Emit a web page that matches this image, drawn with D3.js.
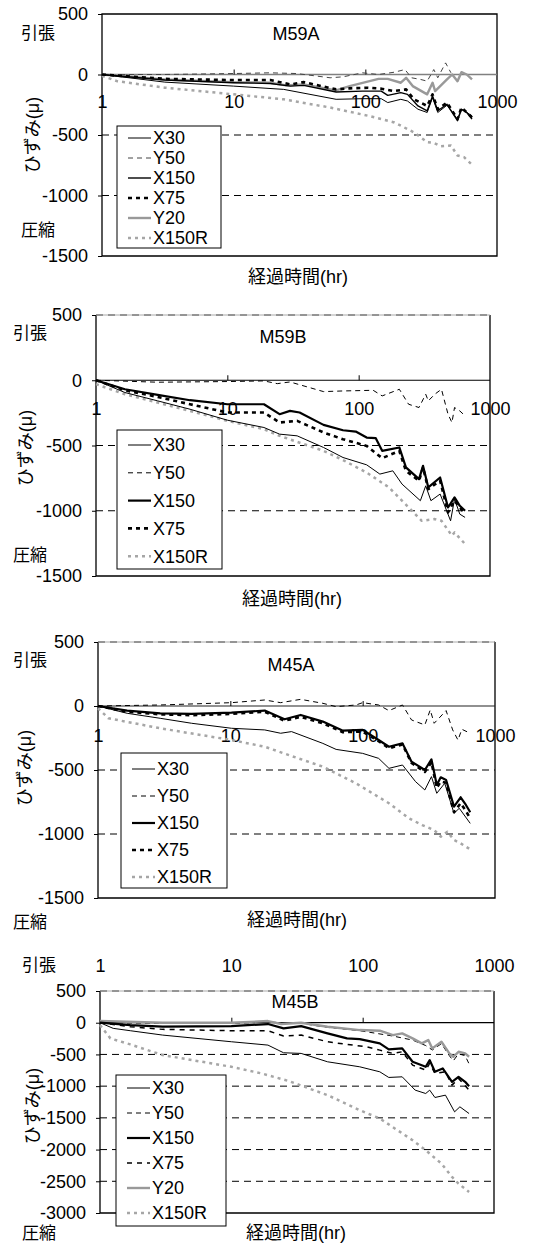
<!DOCTYPE html>
<html>
<head>
<meta charset="utf-8">
<script src="https://cdn.jsdelivr.net/npm/d3@7"></script>
<style>
  body { margin: 0; background: #fff; }
</style>
</head>
<body>
<div id="chart"></div>
<script>
// Tick labels
const xTicks = [1, 10, 100, 1000];
const yTicksA = [500, 0, -500, -1000, -1500];
const yTicksB = [500, 0, -500, -1000, -1500, -2000, -2500, -3000];

// Series names per panel
const namesSix = ["X30", "Y50", "X150", "X75", "Y20", "X150R"];
const namesFive = ["X30", "Y50", "X150", "X75", "X150R"];

// Data: [elapsed hours, strain (μ)]
// M59A
const m59aX30 = [[1,0],[3,-63],[10,-96],[24,-123],[60,-205],[95,-200],[132,-200],[148,-232],[186,-205],[209,-219],[251,-287],[295,-314],[324,-191],[355,-314],[417,-254],[501,-369],[537,-287],[646,-341]];
const m59aY50 = [[1,0],[3,0],[10,8],[19,14],[30,8],[54,-27],[68,-19],[95,14],[126,0],[166,19],[200,41],[224,-27],[263,-41],[295,-55],[331,41],[355,-27],[407,96],[447,14]];
const m59aX150 = [[1,0],[3,-46],[10,-68],[19,-74],[27,-96],[34,-90],[60,-145],[95,-137],[132,-137],[148,-172],[186,-150],[209,-164],[251,-260],[295,-300],[324,-178],[355,-300],[417,-246],[501,-382],[537,-287],[589,-314],[646,-369]];
const m59aX75 = [[1,0],[3,-36],[10,-46],[19,-46],[27,-82],[34,-63],[60,-123],[76,-115],[105,-109],[132,-117],[166,-137],[204,-123],[234,-205],[295,-260],[324,-164],[355,-287],[417,-232],[501,-369],[537,-273],[646,-355]];
const m59aY20 = [[1,0],[3,-41],[10,-63],[19,-68],[25,-90],[34,-82],[60,-131],[76,-96],[126,-36],[148,-36],[186,-68],[204,-27],[229,-96],[295,-164],[324,-68],[339,-137],[417,-41],[457,0],[501,-55],[537,19],[589,0],[646,-41]];
const m59aX150R = [[1,-10],[1.3,-55],[3,-109],[10,-164],[24,-205],[54,-273],[105,-341],[166,-396],[234,-478],[295,-560],[331,-565],[372,-593],[447,-587],[501,-669],[562,-683],[646,-746]];

// M59B
const m59bX30 = [[1,0],[1.66,-94],[2.95,-158],[5.2,-222],[10,-306],[19,-362],[25,-413],[34,-426],[54,-515],[76,-592],[115,-648],[145,-719],[182,-694],[214,-796],[295,-923],[324,-809],[355,-923],[417,-872],[501,-1077],[537,-911],[589,-1026],[646,-1051]];
const m59bY50 = [[1,0],[2.95,-15],[10,-10],[19,-5],[24,-26],[30,-13],[54,-87],[76,-82],[129,-77],[151,-120],[204,-69],[240,-184],[288,-209],[324,-107],[339,-158],[380,-107],[427,-69],[479,-260],[513,-324],[537,-209],[589,-235],[646,-273]];
const m59bX150 = [[1,0],[1.66,-69],[2.95,-112],[5.2,-153],[10,-184],[19,-184],[25,-260],[30,-235],[35.5,-247],[54,-342],[76,-383],[95,-393],[115,-439],[135,-444],[151,-541],[204,-515],[229,-668],[288,-758],[309,-656],[339,-821],[417,-745],[479,-975],[537,-898],[589,-962],[646,-1000]];
const m59bX75 = [[1,0],[1.66,-77],[2.95,-128],[5.2,-184],[10,-247],[19,-247],[25,-324],[34,-311],[54,-400],[76,-452],[115,-503],[151,-597],[204,-541],[229,-694],[288,-771],[309,-669],[339,-834],[417,-770],[479,-1013],[537,-923],[646,-1026]];
const m59bX150R = [[1,-30],[1.66,-107],[2.95,-171],[5.2,-235],[10,-311],[19,-375],[25,-426],[54,-541],[76,-612],[115,-707],[170,-821],[240,-974],[302,-1077],[380,-1064],[427,-1077],[513,-1191],[537,-1166],[646,-1255]];

// M45A
const m45aX30 = [[1,0],[1.66,-57],[2.95,-96],[5.1,-135],[10.2,-174],[18.2,-187],[24,-213],[29,-200],[50,-292],[63,-339],[100,-370],[132,-409],[158,-487],[200,-461],[251,-591],[295,-656],[331,-552],[363,-682],[417,-604],[490,-838],[537,-799],[650,-917]];
const m45aY50 = [[1,0],[2.95,8],[10.2,26],[18.2,47],[24,26],[34,52],[50,21],[63,-5],[89,8],[100,26],[132,8],[158,-36],[200,8],[234,-109],[295,-148],[324,-31],[347,-135],[427,-36],[479,-187],[525,-266],[562,-182],[650,-213]];
const m45aX150 = [[1,0],[1.66,-36],[2.95,-57],[5.1,-62],[10.2,-52],[18.2,-36],[25.7,-104],[34,-70],[50,-122],[71,-193],[100,-187],[132,-266],[158,-318],[200,-292],[234,-435],[295,-500],[331,-417],[363,-617],[389,-557],[427,-578],[490,-786],[550,-713],[603,-773],[650,-830]];
const m45aX75 = [[1,0],[1.66,-45],[2.95,-65],[5.1,-72],[10.2,-62],[18.2,-45],[25.7,-115],[34,-85],[50,-135],[71,-205],[100,-200],[132,-275],[158,-330],[200,-300],[234,-445],[295,-515],[331,-440],[363,-640],[389,-590],[427,-600],[490,-830],[550,-760],[603,-820],[650,-880]];
const m45aX150R = [[1,-18],[1.2,-96],[2.95,-174],[10.2,-266],[18.2,-318],[29,-391],[50,-474],[89,-604],[158,-760],[224,-878],[282,-930],[347,-969],[389,-1021],[437,-982],[490,-1047],[550,-1073],[650,-1120]];

// M45B
const m45bX30 = [[1,0],[1.26,-89],[1.7,-126],[3,-195],[10,-300],[19,-353],[25,-474],[34,-484],[54,-616],[95,-695],[135,-774],[158,-863],[200,-853],[251,-1063],[302,-1116],[324,-1063],[355,-1179],[427,-1142],[501,-1405],[550,-1326],[646,-1432]];
const m45bY50 = [[1,0],[3,-10],[10,-10],[19,10],[34,-10],[54,-74],[95,-126],[170,-210],[240,-274],[302,-360],[339,-430],[398,-330],[457,-520],[490,-600],[537,-490],[603,-520],[646,-650]];
const m45bX150 = [[1,0],[1.7,-37],[3,-63],[10,-53],[19,-21],[25,-89],[34,-53],[54,-168],[76,-247],[95,-258],[135,-326],[158,-421],[200,-405],[240,-616],[302,-695],[324,-589],[355,-774],[407,-721],[479,-932],[537,-853],[603,-932],[646,-1000]];
const m45bX75 = [[1,0],[1.7,-63],[3,-105],[10,-126],[19,-126],[25,-210],[34,-195],[54,-300],[76,-342],[107,-379],[135,-432],[170,-484],[200,-458],[240,-668],[302,-747],[324,-642],[355,-800],[427,-774],[479,-984],[537,-879],[646,-1063]];
const m45bY20 = [[1,26],[3,0],[10,0],[19,26],[24,-21],[34,0],[54,-63],[95,-116],[135,-126],[170,-195],[200,-168],[240,-247],[282,-326],[316,-274],[339,-405],[398,-300],[457,-484],[490,-537],[537,-458],[603,-484],[646,-537]];
const m45bX150R = [[1,-37],[1.2,-247],[1.7,-342],[3,-510],[10,-695],[17,-800],[27,-916],[54,-1142],[95,-1379],[135,-1510],[240,-1853],[302,-2011],[398,-2221],[479,-2432],[537,-2537],[646,-2668]];

const fontStack = '"Liberation Sans", Arial, "Noto Sans CJK JP", sans-serif';

// line styles per series
const baseStyle = {
  X30:   { color: "#000", width: 1, dash: null },
  Y50:   { color: "#000", width: 1, dash: "5,4" },
  X150:  { color: "#000", width: 2.2, dash: null },
  X75:   { color: "#000", width: 2.6, dash: "4,4" },
  Y20:   { color: "#999", width: 2.4, dash: null },
  X150R: { color: "#a6a6a6", width: 2.5, dash: "3,4" }
};

// layout of each panel
const panels = [
  { title: "M59A", names: namesSix, yMin: -1500, yTicks: yTicksA, grid: [-500, -1000],
    data: { X30: m59aX30, Y50: m59aY50, X150: m59aX150, X75: m59aX75, Y20: m59aY20, X150R: m59aX150R },
    override: { X150: { width: 1.4 }, Y50: { color: "#444" } }, zeroColor: "#808080", zeroWidth: 1.6,
    left: 102, right: 497, top: 14, bottom: 256, titleX: 296, titleY: 34,
    tenX: 38, tenY: 33, compX: 38, compY: 230, yLabX: 33, yLabY: 135, xLabX: 298, xLabY: 277,
    xTickY: 102, xTickTop: false,
    legend: { x: 117, y: 126, w: 104, h: 122, first: 12, step: 20 } },
  { title: "M59B", names: namesFive, yMin: -1500, yTicks: yTicksA, grid: [500, -500, -1000],
    data: { X30: m59bX30, Y50: m59bY50, X150: m59bX150, X75: m59bX75, X150R: m59bX150R },
    override: {}, zeroColor: "#000", zeroWidth: 1.2,
    left: 96, right: 490, top: 315, bottom: 576, titleX: 283, titleY: 337,
    tenX: 30, tenY: 333, compX: 30, compY: 555, yLabX: 26, yLabY: 448, xLabX: 292, xLabY: 599,
    xTickY: 409, xTickTop: false,
    legend: { x: 117, y: 430, w: 105, h: 139, first: 15, step: 27.8 } },
  { title: "M45A", names: namesFive, yMin: -1500, yTicks: yTicksA, grid: [500, -500, -1000],
    data: { X30: m45aX30, Y50: m45aY50, X150: m45aX150, X75: m45aX75, X150R: m45aX150R },
    override: {}, zeroColor: "#222", zeroWidth: 1.2,
    left: 98, right: 495, top: 642, bottom: 898, titleX: 291, titleY: 665,
    tenX: 30, tenY: 660, compX: 30, compY: 922, yLabX: 25, yLabY: 768, xLabX: 297, xLabY: 920,
    xTickY: 736, xTickTop: false,
    legend: { x: 121, y: 753, w: 106, h: 135, first: 16, step: 27 } },
  { title: "M45B", names: namesSix, yMin: -3000, yTicks: yTicksB, grid: [500, -500, -1000, -1500, -2000, -2500],
    data: { X30: m45bX30, Y50: m45bY50, X150: m45bX150, X75: m45bX75, Y20: m45bY20, X150R: m45bX150R },
    override: { X75: { width: 1.5, dash: "5,5" } }, zeroColor: "#000", zeroWidth: 1.2,
    left: 100, right: 494, top: 991, bottom: 1213, titleX: 295, titleY: 1002,
    tenX: 39, tenY: 965, compX: 39, compY: 1233, yLabX: 33, yLabY: 1106, xLabX: 296, xLabY: 1233,
    xTickY: 965, xTickTop: true,
    legend: { x: 116, y: 1075, w: 110, h: 151, first: 13, step: 25 } }
];

const svg = d3.select("#chart").append("svg")
    .attr("width", 533)
    .attr("height", 1243)
    .style("font-family", fontStack);

// series are drawn in this order so the bold black lines sit on top
const drawOrder = ["Y50", "X150R", "Y20", "X30", "X75", "X150"];

panels.forEach(p => {
  const x = d3.scaleLog().domain([1, 1000]).range([p.left, p.right]);
  const y = d3.scaleLinear().domain([p.yMin, 500]).range([p.bottom, p.top]);
  const styleOf = n => Object.assign({}, baseStyle[n], p.override[n] || {});
  const g = svg.append("g");

  // dashed grid lines
  g.selectAll("line.grid")
    .data(p.grid)
    .join("line")
    .attr("class", "grid")
    .attr("x1", p.left).attr("x2", p.right)
    .attr("y1", d => y(d)).attr("y2", d => y(d))
    .attr("stroke", "#000")
    .attr("stroke-width", 1)
    .attr("stroke-dasharray", "7,5");

  // frame (top edge solid only where there is no grid line on it)
  const topDashed = p.grid.includes(500);
  g.append("path")
    .attr("d", topDashed
      ? `M${p.left},${p.top}V${p.bottom}H${p.right}V${p.top}`
      : `M${p.left},${p.top}V${p.bottom}H${p.right}V${p.top}Z`)
    .attr("fill", "none")
    .attr("stroke", "#000")
    .attr("stroke-width", 1.3);
  if (topDashed) {
    g.append("line")
      .attr("x1", p.left).attr("x2", p.right)
      .attr("y1", p.top).attr("y2", p.top)
      .attr("stroke", "#aaa")
      .attr("stroke-width", 1);
  }

  // zero line
  g.append("line")
    .attr("x1", p.left).attr("x2", p.right)
    .attr("y1", y(0)).attr("y2", y(0))
    .attr("stroke", p.zeroColor)
    .attr("stroke-width", p.zeroWidth);

  // y axis
  const yAxisEl = g.append("g")
    .attr("transform", `translate(${p.left},0)`)
    .call(d3.axisLeft(y).tickValues(p.yTicks).tickSize(4).tickPadding(10).tickFormat(d => String(d)));
  yAxisEl.select(".domain").remove();
  yAxisEl.attr("font-family", null).attr("font-size", 18);
  yAxisEl.selectAll("text").attr("fill", "#000");

  // x tick marks on the zero line
  const xTickEl = g.append("g")
    .attr("transform", `translate(0,${y(0)})`)
    .call(d3.axisBottom(x).tickValues([10, 100]).tickSizeInner(-5).tickSizeOuter(0).tickFormat(""));
  xTickEl.select(".domain").remove();

  // x tick labels
  let xLabEl;
  if (p.xTickTop) {
    xLabEl = g.append("g")
      .attr("transform", `translate(0,${p.top})`)
      .call(d3.axisTop(x).tickValues(xTicks).tickSize(0).tickPadding(p.top - p.xTickY - 6.5).tickFormat(d3.format("d")));
  } else {
    xLabEl = g.append("g")
      .attr("transform", `translate(0,${y(0)})`)
      .call(d3.axisBottom(x).tickValues(xTicks).tickSize(0).tickPadding(p.xTickY - y(0) - 6.3).tickFormat(d3.format("d")));
  }
  xLabEl.select(".domain").remove();
  xLabEl.attr("font-family", null).attr("font-size", 18);
  xLabEl.selectAll("text").attr("fill", "#000");

  // series
  const line = d3.line().x(d => x(d[0])).y(d => y(d[1]));
  drawOrder.filter(n => p.data[n]).forEach(n => {
    const s = styleOf(n);
    g.append("path")
      .datum(p.data[n])
      .attr("d", line)
      .attr("fill", "none")
      .attr("stroke", s.color)
      .attr("stroke-width", s.width)
      .attr("stroke-dasharray", s.dash)
      .attr("stroke-linejoin", "round");
  });

  // title
  g.append("text")
    .attr("x", p.titleX).attr("y", p.titleY)
    .attr("dy", "0.35em")
    .attr("text-anchor", "middle")
    .attr("font-size", 18)
    .text(p.title);

  // 引張 / 圧縮 markers
  g.append("text")
    .attr("x", p.tenX).attr("y", p.tenY).attr("dy", "0.35em")
    .attr("text-anchor", "middle").attr("font-size", 17)
    .text("引張");
  g.append("text")
    .attr("x", p.compX).attr("y", p.compY).attr("dy", "0.35em")
    .attr("text-anchor", "middle").attr("font-size", 17)
    .text("圧縮");

  // axis titles
  g.append("text")
    .attr("transform", `translate(${p.yLabX},${p.yLabY}) rotate(-90)`)
    .attr("dy", "0.35em")
    .attr("text-anchor", "middle")
    .attr("font-size", 18)
    .text("ひずみ(μ)");
  g.append("text")
    .attr("x", p.xLabX).attr("y", p.xLabY)
    .attr("dy", "0.35em")
    .attr("text-anchor", "middle")
    .attr("font-size", 18)
    .text("経過時間(hr)");

  // legend
  const L = p.legend;
  const legend = g.append("g").attr("transform", `translate(${L.x},${L.y})`);
  legend.append("rect")
    .attr("width", L.w).attr("height", L.h)
    .attr("fill", "#fff")
    .attr("stroke", "#000")
    .attr("stroke-width", 1);
  const item = legend.selectAll("g.item")
    .data(p.names)
    .join("g")
    .attr("class", "item")
    .attr("transform", (d, i) => `translate(0,${L.first + i * L.step})`);
  item.append("line")
    .attr("x1", 11).attr("x2", 34)
    .attr("stroke", d => styleOf(d).color)
    .attr("stroke-width", d => styleOf(d).width)
    .attr("stroke-dasharray", d => styleOf(d).dash);
  item.append("text")
    .attr("x", 36)
    .attr("dy", "0.35em")
    .attr("font-size", 18)
    .text(d => d);
});
</script>
</body>
</html>
